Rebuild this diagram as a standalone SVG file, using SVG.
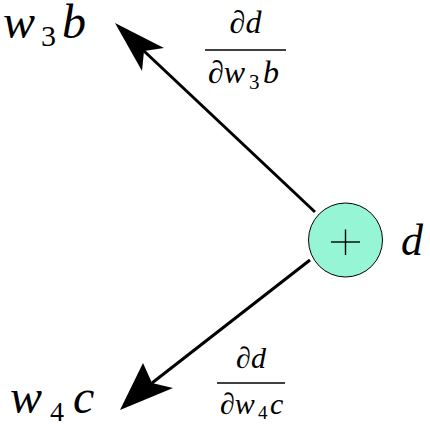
<svg xmlns="http://www.w3.org/2000/svg" width="430" height="427" viewBox="0 0 430 427">
<style>
text{font-family:'Liberation Serif','DejaVu Serif',serif;font-style:italic;fill:#000}
.u{font-style:normal}
.edge{stroke:#000;stroke-width:3;fill:none}
.head{fill:#000;stroke:none}
.bar{stroke:#000;stroke-width:1.5}
</style>
<rect width="430" height="427" fill="#fff"/>
<g id="connectors">
<line class="edge" x1="315" y1="212" x2="144" y2="51"/>
<path class="head" d="M115,23 L164,48 L144,51 L142,71 Z"/>
<line class="edge" x1="310" y1="260" x2="152" y2="383"/>
<path class="head" d="M120,410 L143,363 L152,383 L173,388 Z"/>
</g>
<g id="node-d">
<circle cx="345.5" cy="240" r="37" fill="#96f5d4" stroke="#000" stroke-width="1"/>
<line x1="331" y1="242" x2="360" y2="242" stroke="#000" stroke-width="1.4"/>
<line x1="345.5" y1="229.5" x2="345.5" y2="255" stroke="#000" stroke-width="1.4"/>
<text x="401" y="255" font-size="44">d</text>
</g>
<g id="node-w3b">
<text font-size="48" y="38"><tspan x="3">w</tspan><tspan class="u" x="41" y="46" font-size="30">3</tspan><tspan x="62" y="38">b</tspan></text>
</g>
<g id="node-w4c">
<text font-size="48" y="413"><tspan x="10">w</tspan><tspan class="u" x="50" y="421" font-size="28">4</tspan><tspan x="73" y="413">c</tspan></text>
</g>
<g id="label-top">
<text x="245.5" y="33" font-size="32" text-anchor="middle">∂d</text>
<line class="bar" x1="205" y1="50" x2="286" y2="50"/>
<text font-size="32" y="83"><tspan x="208">∂w</tspan><tspan class="u" x="249" y="89" font-size="21">3</tspan><tspan x="263" y="83">b</tspan></text>
</g>
<g id="label-bottom">
<text x="251" y="368" font-size="30" text-anchor="middle">∂d</text>
<line class="bar" x1="217" y1="383" x2="285" y2="383"/>
<text font-size="30" y="414"><tspan x="220">∂w</tspan><tspan class="u" x="258" y="419" font-size="19">4</tspan><tspan x="270" y="414">c</tspan></text>
</g>
</svg>
